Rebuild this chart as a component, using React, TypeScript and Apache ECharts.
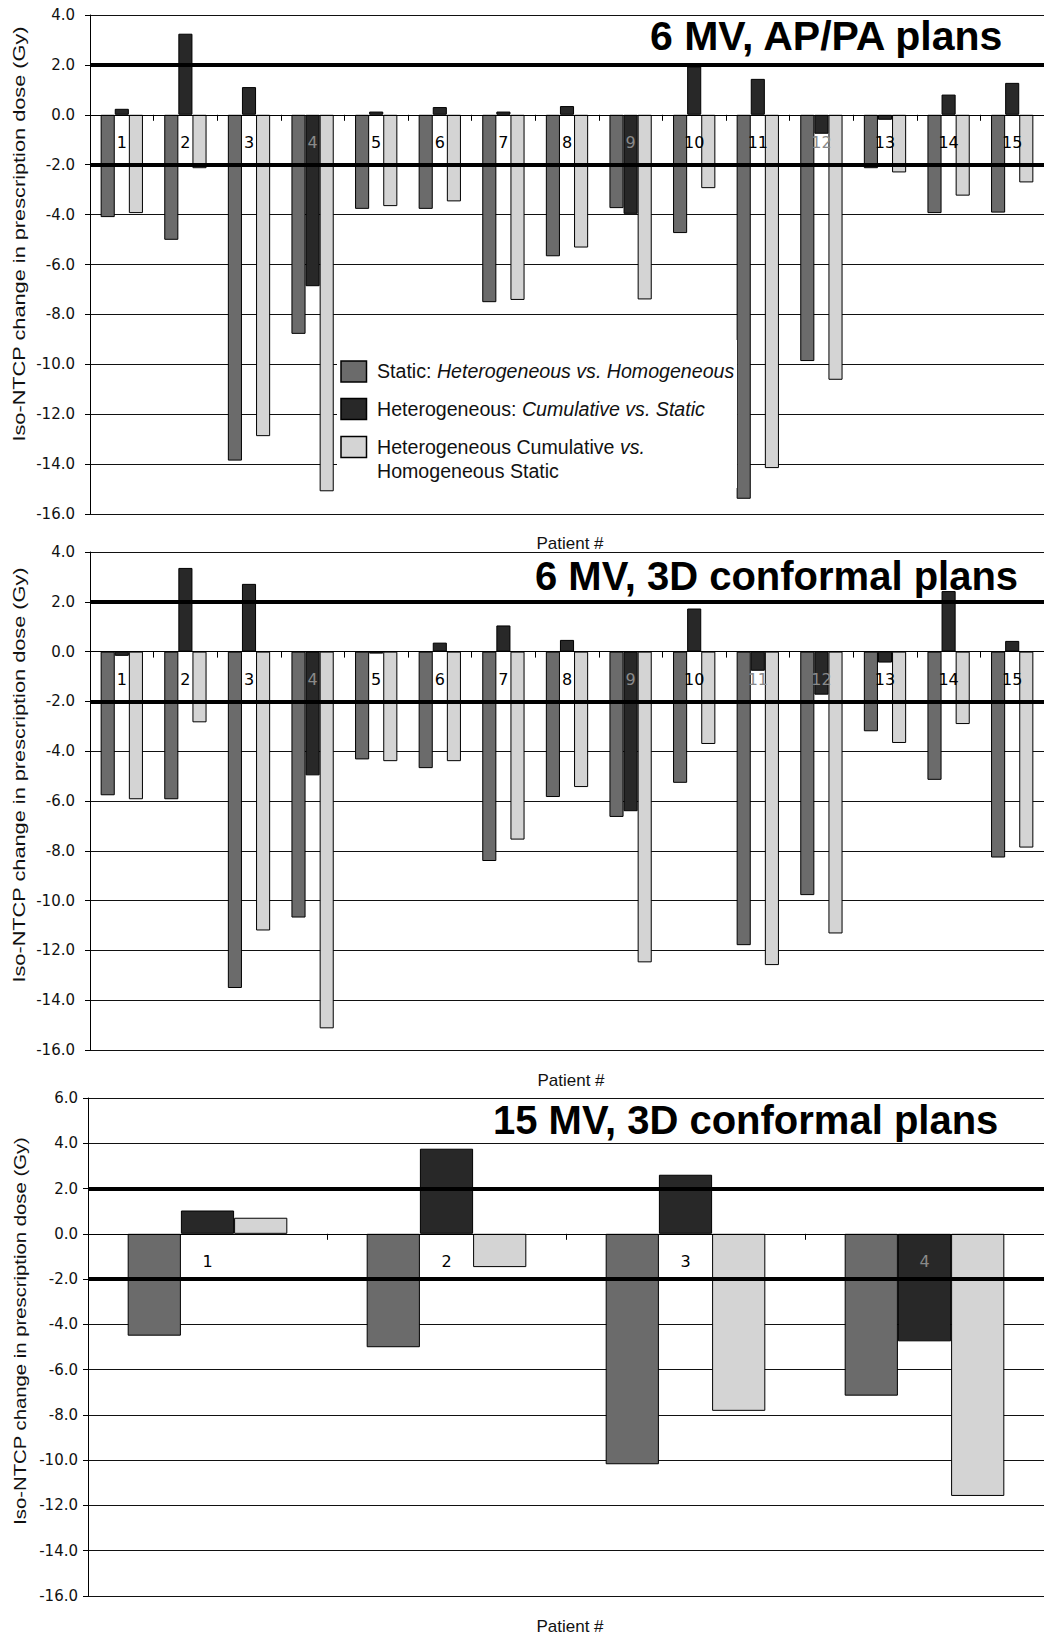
import React, { useEffect, useRef } from 'react';
import * as echarts from 'echarts';

// ---------- data ----------
const patients15 = ['1', '2', '3', '4', '5', '6', '7', '8', '9', '10', '11', '12', '13', '14', '15'];
const patients4 = ['1', '2', '3', '4'];

const seriesNames = [
  'Static: Heterogeneous vs. Homogeneous',
  'Heterogeneous: Cumulative vs. Static',
  'Heterogeneous Cumulative vs. Homogeneous Static',
];

// 6 MV, AP/PA plans
const apStatic = [-4.10, -5.01, -13.86, -8.78, -3.77, -3.77, -7.51, -5.67, -3.74, -4.74, -15.39, -9.87, -2.14, -3.94, -3.92];
const apCumVsStatic = [0.24, 3.25, 1.11, -6.87, 0.13, 0.31, 0.13, 0.35, -3.97, 1.94, 1.44, -0.76, -0.20, 0.81, 1.28];
const apCumVsHomo = [-3.94, -2.14, -12.88, -15.09, -3.66, -3.47, -7.42, -5.32, -7.40, -2.94, -14.16, -10.62, -2.31, -3.24, -2.71];

// 6 MV, 3D conformal plans
const cfStatic = [-5.77, -5.93, -13.51, -10.68, -4.33, -4.68, -8.41, -5.84, -6.64, -5.27, -11.79, -9.78, -3.20, -5.15, -8.27];
const cfCumVsStatic = [-0.17, 3.36, 2.72, -4.97, -0.08, 0.36, 1.05, 0.47, -6.41, 1.73, -0.77, -1.73, -0.44, 2.43, 0.43];
const cfCumVsHomo = [-5.93, -2.84, -11.20, -15.13, -4.40, -4.40, -7.55, -5.44, -12.48, -3.71, -12.59, -11.32, -3.67, -2.91, -7.87];

// 15 MV, 3D conformal plans
const mvStatic = [-4.50, -5.01, -10.18, -7.15];
const mvCumVsStatic = [1.03, 3.76, 2.61, -4.75];
const mvCumVsHomo = [0.71, -1.47, -7.82, -11.58];

const panelTitles = ['6 MV, AP/PA plans', '6 MV, 3D conformal plans', '15 MV, 3D conformal plans'];
const yMins = [-16, -16, -16];
const yMaxs = [4, 4, 6];
const yInterval = 2;
const thresholdLines = [2, -2];
const xAxisName = 'Patient #';
const yAxisName = 'Iso-NTCP change in prescription dose (Gy)';

// ---------- styling / layout ----------
const COLORS = ['#6b6b6b', '#282828', '#d4d4d4'];
const SANS = "'Liberation Sans', Arial, sans-serif";
const TICK_FONT = "'DejaVu Sans', sans-serif";

const grids = [
  { left: 90, top: 15, width: 960, height: 499 },
  { left: 90, top: 552, width: 960, height: 498 },
  { left: 88, top: 1098, width: 964, height: 498 },
];
const barGaps = ['33.5%', '33.5%', '33.2%'];
const yLabelMargins = [15, 15, 10];
const xLabelGapBelowZero = 20;
const titleSizes = [41, 40, 40];
const titlePos = [
  { left: 650, top: 15 },
  { left: 535, top: 556 },
  { left: 493, top: 1100 },
];
const yNamePos = [
  { x: 19.5, y: 234, s: 1.36 },
  { x: 19.5, y: 775, s: 1.36 },
  { x: 20, y: 1331, s: 1.27 },
];
const xNamePos = [
  { x: 570, y: 543 },
  { x: 571, y: 1080 },
  { x: 570, y: 1626 },
];

function buildOption() {
  const panels = [
    { cats: patients15, data: [apStatic, apCumVsStatic, apCumVsHomo] },
    { cats: patients15, data: [cfStatic, cfCumVsStatic, cfCumVsHomo] },
    { cats: patients4, data: [mvStatic, mvCumVsStatic, mvCumVsHomo] },
  ];

  const xAxis: any[] = [];
  const yAxis: any[] = [];
  const series: any[] = [];

  panels.forEach((p, gi) => {
    const mid = p.data[1];
    const g = grids[gi];
    // labels are laid out from the grid's bottom edge; bring them up to just under the zero line
    const zeroFromBottom = (g.height * (0 - yMins[gi])) / (yMaxs[gi] - yMins[gi]);
    xAxis.push({
      type: 'category',
      gridIndex: gi,
      data: p.cats,
      z: 3,
      axisLine: { show: true, onZero: true, lineStyle: { color: '#000', width: 1 } },
      axisTick: { show: true, length: 6, lineStyle: { color: '#000', width: 1 } },
      axisLabel: {
        margin: xLabelGapBelowZero - zeroFromBottom,
        fontFamily: TICK_FONT,
        fontSize: 16,
        color: (_v: any, idx: number) => (mid[idx] < -0.6 ? '#8a8a8a' : '#000'),
      },
      splitLine: { show: false },
    });
    yAxis.push({
      type: 'value',
      gridIndex: gi,
      min: yMins[gi],
      max: yMaxs[gi],
      interval: yInterval,
      axisLine: { show: true, lineStyle: { color: '#000', width: 1 } },
      axisTick: { show: true, length: 5, lineStyle: { color: '#000', width: 1 } },
      axisLabel: {
        margin: yLabelMargins[gi],
        fontFamily: TICK_FONT,
        fontSize: 15,
        color: '#111',
        formatter: (v: number) => v.toFixed(1),
      },
      splitLine: { show: true, lineStyle: { color: '#111', width: 1 } },
    });
    p.data.forEach((vals, si) => {
      const s: any = {
        type: 'bar',
        name: seriesNames[si],
        xAxisIndex: gi,
        yAxisIndex: gi,
        data: vals,
        barGap: '0%',
        barCategoryGap: barGaps[gi],
        itemStyle: { color: COLORS[si], borderColor: '#000', borderWidth: 1 },
        emphasis: { disabled: true },
      };
      if (si === 2) {
        s.markLine = {
          silent: true,
          symbol: ['none', 'none'],
          label: { show: false },
          lineStyle: { color: '#000', width: 4, type: 'solid' },
          emphasis: { disabled: true },
          data: thresholdLines.map((v) => ({ yAxis: v })),
        };
      }
      series.push(s);
    });
  });

  const title = panelTitles.map((t, i) => ({
    text: t,
    left: titlePos[i].left,
    top: titlePos[i].top,
    padding: 0,
    textStyle: { fontFamily: SANS, fontWeight: 'bold', fontSize: titleSizes[i], color: '#000' },
  }));

  const txt = (x: number, y: number, text: string, extra: any = {}, el: any = {}) => ({
    type: 'text',
    x,
    y,
    z: 12,
    ...el,
    style: {
      text,
      fill: '#111',
      fontFamily: SANS,
      fontSize: 17,
      align: 'center',
      verticalAlign: 'middle',
      textAlign: 'center',
      textVerticalAlign: 'middle',
      ...extra,
    },
  });

  const graphic: any[] = [];
  yNamePos.forEach((p) => {
    graphic.push(txt(p.x, p.y, yAxisName, { fontSize: 16 }, { rotation: Math.PI / 2, scaleX: p.s }));
  });
  xNamePos.forEach((p) => {
    graphic.push(txt(p.x, p.y, xAxisName));
  });

  // legend (top panel)
  graphic.push({
    type: 'rect',
    z: 10,
    shape: { x: 337, y: 340, width: 400, height: 148 },
    style: { fill: '#fff' },
  });
  const legendRows = [
    { y: 361, ty: 371, text: '{n|Static: }{i|Heterogeneous vs. Homogeneous}' },
    { y: 398.5, ty: 409, text: '{n|Heterogeneous: }{i|Cumulative vs. Static}' },
    { y: 436.5, ty: 447.3, text: '{n|Heterogeneous Cumulative }{i|vs.}' },
  ];
  const rich = {
    n: { fontFamily: SANS, fontSize: 19.6, fill: '#111', color: '#111' },
    i: { fontFamily: SANS, fontSize: 19.6, fontStyle: 'italic', fill: '#111', color: '#111' },
  };
  legendRows.forEach((r, i) => {
    graphic.push({
      type: 'rect',
      z: 11,
      shape: { x: 341, y: r.y, width: 25.5, height: 21 },
      style: { fill: COLORS[i], stroke: '#000', lineWidth: 1.5 },
    });
    graphic.push(
      txt(377, r.ty, r.text, {
        align: 'left',
        textAlign: 'left',
        fontSize: 19.6,
        rich,
      })
    );
  });
  graphic.push(
    txt(377, 470.7, 'Homogeneous Static', { align: 'left', textAlign: 'left', fontSize: 19.6 })
  );

  return {
    animation: false,
    backgroundColor: '#fff',
    title,
    grid: grids.map((g) => ({ ...g, containLabel: false })),
    xAxis,
    yAxis,
    series,
    graphic,
  };
}

export default function App() {
  const ref = useRef<HTMLDivElement>(null);
  useEffect(() => {
    if (!ref.current) return;
    const chart = echarts.init(ref.current, undefined, { renderer: 'svg' });
    chart.setOption(buildOption() as any);
    return () => chart.dispose();
  }, []);
  return (
    <div
      ref={ref}
      style={{
        position: 'absolute',
        left: 0,
        top: 0,
        width: 1044,
        height: 1636,
        overflow: 'hidden',
        background: '#fff',
      }}
    />
  );
}
